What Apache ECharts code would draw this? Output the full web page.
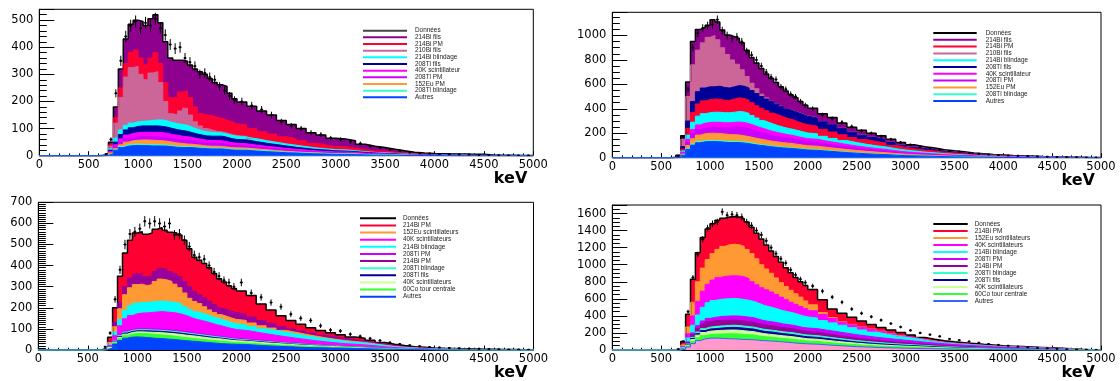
<!DOCTYPE html>
<html><head><meta charset="utf-8">
<script src="https://cdn.jsdelivr.net/npm/echarts@6/dist/echarts.min.js"></script>
<style>html,body{margin:0;padding:0;background:#fff}#c{width:1120px;height:381px}</style>
</head><body><div id="c"></div>
<script>
// Lower edges of the histogram bins (keV); the last bin ends at 5000 keV.
const binEdges = [600,650,700,750,800,850,900,950,1000,1050,1100,1150,1200,1250,1300,1350,1400,1450,1500,1550,1600,1650,1700,1750,1800,1850,1900,1950,
  2000,2100,2200,2300,2400,2500,2600,2700,2800,2900,3000,3100,3200,3300,3400,3500,3600,3700,3800,3900,4000,4100,4200,4300,4400,4500,4600,4700,4800,4900];
const xTicks = [0,500,1000,1500,2000,2500,3000,3500,4000,4500,5000];

// Each array = height of the top edge of that layer in the stack (counts per bin).
// ---------- Panel 1 (top left)
const p1_214Bi_fils = [2,8,50,180,320,430,485,500,495,480,505,520,490,420,360,352,352,348,335,320,310,300,285,270,262,255,230,210,
  198,182,165,150,130,115,100,85,76,64,62,55,42,35,30,24,18,13,10,8,7,6,6,5,5,3,2,2,1,1];
const p1_214Bi_PM = [1,6,40,140,250,340,380,390,360,335,360,380,340,270,215,215,235,240,215,180,155,150,148,142,138,132,125,118,
  113,100,88,80,70,63,55,46,40,34,33,28,22,18,16,13,10,7,6,5,4,3,3,2,2,1,1,1,0,0];
const p1_210Bi_fils = [1,5,35,120,215,290,325,330,300,280,305,310,270,200,155,150,165,175,150,125,110,100,95,90,88,84,78,74,
  71,63,56,50,44,39,34,29,26,23,22,19,15,12,11,9,7,5,4,3,3,2,2,1,1,1,0,0,0,0];
const p1_214Bi_blindage = [1,4,25,65,95,112,120,125,127,128,130,132,132,128,122,118,115,112,105,98,92,88,86,85,84,80,75,72,
  69,62,55,49,43,38,33,28,25,22,21,18,14,12,10,8,6,5,4,3,3,2,2,1,1,1,0,0,0,0];
const p1_208Tl_fils = [0,3,20,50,78,95,103,108,110,110,110,110,108,105,100,96,93,90,85,80,76,73,72,72,72,68,63,60,
  58,52,46,41,36,31,27,23,21,18,17,15,12,10,8,7,5,4,3,3,2,2,1,1,1,0,0,0,0,0];
const p1_40K_scint = [0,2,15,40,62,76,82,85,86,86,86,86,85,82,78,75,72,70,67,63,60,57,56,56,55,52,48,46,
  44,39,35,31,27,24,21,18,16,14,14,12,9,8,7,5,4,3,2,2,2,1,1,1,0,0,0,0,0,0];
const p1_208Tl_PM = [0,2,12,32,50,62,67,70,70,70,70,69,68,66,63,60,58,57,55,52,49,47,46,46,45,42,38,37,
  36,32,28,25,21,18,16,14,12,11,11,9,7,6,5,4,3,2,2,1,1,0,0,0,0,0,0,0,0,0];
const p1_152Eu_PM = [0,1,10,26,40,50,55,57,58,58,57,56,55,53,50,47,45,43,42,40,38,36,35,35,34,32,30,29,
  28,25,22,19,16,14,12,11,9,8,8,7,5,4,4,3,2,2,1,1,1,0,0,0,0,0,0,0,0,0];
const p1_208Tl_blindage = [0,1,8,22,34,40,42,43,42,42,41,40,40,39,37,35,34,33,33,31,30,29,28,28,28,26,24,23,
  23,20,18,16,13,12,10,9,8,7,7,6,4,3,3,3,2,1,1,1,1,0,0,0,0,0,0,0,0,0];
const p1_autres = [0,1,7,20,30,35,37,38,37,37,36,36,36,35,33,31,30,30,30,28,27,26,25,25,25,23,21,20,
  20,17,15,13,11,10,8,7,6,5,5,4,3,2,2,2,1,1,1,1,0,0,0,0,0,0,0,0,0,0];
const p1_donnees = [0,6,60,230,350,440,480,495,470,490,480,505,470,445,410,395,400,360,345,330,300,305,290,280,255,240,220,205,
  200,185,170,150,125,110,100,85,78,65,60,52,45,35,30,22,18,12,9,8,6,5,4,4,3,3,2,1,1,1];

// ---------- Panel 2 (top right)
const p2_214Bi_fils = [3,20,180,620,950,1050,1065,1085,1130,1110,1045,1005,990,975,940,880,820,775,730,685,650,615,580,545,515,490,460,430,
  405,360,330,285,250,225,200,180,150,125,105,90,80,66,56,48,38,32,26,22,18,15,13,10,8,6,4,3,2,1];
const p2_210Bi_fils = [2,15,150,500,760,880,940,985,1000,965,900,845,800,765,720,665,610,565,520,490,462,442,422,402,387,372,357,342,
  327,296,272,242,212,187,167,151,126,106,89,77,68,56,48,41,33,28,23,19,16,13,11,9,7,5,4,3,2,1];
const p2_208Tl_fils = [1,10,90,300,460,540,570,580,580,585,575,570,580,590,585,570,550,525,500,480,460,440,420,400,385,370,355,340,
  325,294,270,240,210,185,165,149,124,104,87,75,66,55,47,40,32,27,22,18,15,12,10,8,6,4,3,2,1,1];
const p2_214Bi_PM = [1,8,70,240,370,440,465,475,480,478,470,470,480,490,485,470,450,425,405,385,365,350,335,320,310,295,280,270,
  258,232,210,188,165,148,132,120,100,85,72,62,54,45,38,32,26,22,18,15,12,10,8,6,5,4,2,2,1,1];
const p2_214Bi_blindage = [1,6,55,185,290,340,360,368,372,372,368,368,372,378,375,362,345,325,305,290,275,262,250,240,232,222,212,202,
  195,175,158,140,124,110,98,88,74,63,54,46,40,33,28,24,19,16,13,11,9,7,6,5,4,3,2,1,1,0];
const p2_40K_scint = [0,5,45,150,230,268,282,288,290,290,286,286,290,292,288,278,265,250,238,225,214,205,196,188,182,172,163,156,
  150,135,122,108,96,85,76,68,57,48,42,36,31,25,21,18,15,12,10,8,7,5,4,4,3,2,1,1,0,0];
const p2_208Tl_PM = [0,4,38,125,195,230,242,246,248,248,245,245,250,252,248,238,225,212,200,190,180,172,165,160,155,146,138,131,
  125,112,100,89,79,70,62,55,46,39,34,29,25,20,17,14,12,10,8,6,5,4,3,3,2,1,1,0,0,0];
const p2_152Eu_PM = [0,3,30,100,155,185,196,200,200,198,194,190,188,186,180,172,163,155,148,140,133,128,123,119,115,109,103,98,
  94,84,75,67,59,52,46,41,34,29,25,21,18,15,12,10,8,7,6,5,4,3,2,2,1,1,0,0,0,0];
const p2_208Tl_blindage = [0,2,22,75,112,132,140,142,142,140,137,134,134,134,130,124,117,110,105,99,94,90,86,83,80,76,72,68,
  65,58,52,46,40,35,31,27,23,19,17,14,12,10,8,7,5,4,4,3,2,2,1,1,0,0,0,0,0,0];
const p2_autres = [0,2,20,68,103,122,130,132,132,130,127,124,124,124,120,115,108,102,98,92,88,84,80,77,75,71,67,63,
  60,54,48,42,37,32,28,25,21,17,15,13,11,9,7,6,5,4,3,2,2,1,1,0,0,0,0,0,0,0];
const p2_donnees = [0,15,170,560,900,1020,1060,1080,1090,1130,1040,1000,975,990,950,870,840,800,750,700,660,640,580,560,520,500,460,430,
  400,350,320,290,255,220,200,175,150,125,105,90,78,65,55,48,38,32,26,22,18,15,13,10,8,6,4,3,2,1];

// ---------- Panel 3 (bottom left)
const p3_214Bi_PM = [2,10,60,200,350,460,520,555,560,548,555,572,580,568,558,555,545,520,480,440,425,410,390,362,338,322,305,292,
  280,258,218,190,162,140,122,106,92,82,72,62,56,46,36,27,21,16,13,10,8,7,6,5,4,3,2,2,1,1];
const p3_214Bi_PM_b = [1,6,40,130,225,300,340,360,362,348,352,372,388,382,372,362,348,325,300,278,262,248,232,215,200,192,184,177,
  170,156,140,127,112,100,90,80,70,62,55,48,43,35,28,21,16,12,10,8,6,5,4,4,3,2,1,1,0,0];
const p3_152Eu_scint = [1,5,35,110,195,262,295,310,312,305,310,325,336,332,325,312,295,270,245,230,220,205,190,178,168,160,152,145,
  140,128,115,104,93,84,75,66,58,51,45,40,36,29,23,17,13,10,8,6,5,4,3,3,2,1,1,0,0,0];
const p3_214Bi_blindage = [1,4,28,85,145,188,210,222,226,226,228,230,232,230,228,224,218,205,192,182,175,168,160,152,146,138,130,124,
  120,110,100,92,84,76,68,60,53,47,41,37,33,27,21,16,12,9,7,6,5,4,3,2,2,1,1,0,0,0];
const p3_40K_scint = [0,3,22,68,115,148,163,172,175,176,178,180,182,180,178,175,170,162,153,145,140,134,127,120,115,108,102,97,
  93,85,77,70,63,56,50,44,39,34,30,27,24,20,15,12,9,7,5,4,4,3,2,2,1,1,0,0,0,0];
const p3_208Tl_PM = [0,2,15,45,72,90,98,101,102,102,101,100,99,97,95,93,90,87,84,80,77,74,71,68,65,62,58,55,
  52,48,44,40,36,33,30,27,24,21,19,17,15,12,10,8,6,5,4,3,3,2,2,1,1,0,0,0,0,0];
const p3_208Tl_blindage = [0,2,14,42,68,85,93,96,96,96,95,94,93,91,89,87,84,81,78,75,72,69,66,63,60,57,54,51,
  48,44,40,37,33,30,27,24,21,19,17,15,13,11,9,7,5,4,3,3,2,2,1,1,0,0,0,0,0,0];
const p3_208Tl_fils = [0,2,13,40,64,80,88,91,91,91,90,89,88,86,84,82,79,76,73,70,67,64,61,58,56,53,50,47,
  45,41,37,34,30,27,24,22,19,17,15,13,11,9,8,6,4,3,3,2,2,1,1,0,0,0,0,0,0,0];
const p3_40K_scint_b = [0,2,12,38,60,75,83,86,86,85,84,83,82,80,78,76,73,70,68,65,62,59,56,54,52,49,46,44,
  42,38,34,31,28,25,22,20,18,16,14,12,10,8,7,5,4,3,2,2,1,1,0,0,0,0,0,0,0,0];
const p3_60Co = [0,2,11,34,54,68,75,78,78,77,75,73,71,69,67,64,61,58,56,53,50,48,46,44,42,40,37,35,
  33,30,27,24,22,20,18,16,14,12,11,9,8,6,5,4,3,2,2,1,1,0,0,0,0,0,0,0,0,0];
const p3_autres = [0,1,9,28,45,56,61,62,61,59,57,55,54,52,50,48,46,44,42,40,38,36,34,32,30,29,28,27,
  26,23,20,18,16,14,12,11,10,9,8,7,6,5,4,3,2,2,1,1,0,0,0,0,0,0,0,0,0,0];
const p3_donnees = [0,15,80,240,380,500,550,560,575,610,600,610,600,585,600,545,550,520,490,450,440,430,400,370,350,330,320,300,
  320,270,250,225,205,170,150,140,115,95,90,75,65,55,45,35,28,22,18,14,12,10,8,7,6,4,3,2,2,1];

// ---------- Panel 4 (bottom right)
const p4_214Bi_PM = [2,10,100,420,830,1140,1320,1420,1480,1520,1545,1560,1565,1560,1540,1500,1440,1370,1300,1230,1160,1095,1030,965,905,850,800,755,
  710,590,480,430,385,340,300,265,235,205,175,148,125,108,96,86,76,66,58,50,45,40,35,30,25,20,14,8,4,2];
const p4_152Eu_scint = [1,6,60,270,560,800,960,1060,1130,1180,1215,1235,1240,1235,1215,1180,1130,1070,1000,950,900,845,790,745,700,660,620,575,
  530,440,380,330,300,270,245,220,195,170,145,123,105,90,80,72,64,56,49,42,38,34,30,25,21,17,12,7,3,2];
const p4_40K_scint = [1,4,42,190,400,570,690,770,820,848,862,868,870,868,858,835,800,765,730,705,680,650,620,590,560,535,510,485,
  460,415,370,325,295,265,240,215,190,165,142,120,102,88,78,70,62,54,47,41,37,33,29,24,20,16,11,6,3,1];
const p4_214Bi_blindage = [1,3,30,140,290,410,500,555,580,592,598,602,605,600,592,582,570,548,525,510,495,478,460,448,435,418,400,388,
  375,345,318,290,262,235,210,188,168,150,135,115,98,84,74,66,58,50,44,38,34,30,26,22,18,14,10,5,2,1];
const p4_208Tl_PM = [0,2,22,95,200,285,340,370,382,390,395,398,400,398,392,385,378,360,345,335,328,318,305,298,290,278,265,258,
  250,232,215,197,180,165,150,137,125,114,104,92,82,72,64,57,50,44,38,33,29,25,22,18,15,12,8,4,2,1];
const p4_214Bi_PM_b = [0,2,20,85,180,255,305,332,342,346,348,350,350,346,340,333,325,310,297,288,282,272,262,255,248,236,224,216,
  208,190,173,156,140,126,114,103,93,85,77,68,60,52,46,40,35,30,26,22,19,16,14,11,9,7,5,3,1,0];
const p4_208Tl_blindage = [0,2,17,70,148,210,250,268,275,280,284,288,290,286,280,274,268,255,243,236,230,222,213,207,202,192,182,175,
  168,153,138,124,111,100,90,81,73,66,60,53,46,40,35,31,27,23,20,17,14,12,10,8,6,5,3,2,1,0];
const p4_208Tl_fils = [0,2,15,64,135,192,228,245,250,255,260,264,265,262,256,250,245,232,220,214,208,200,192,186,180,171,162,155,
  148,134,120,107,95,85,76,68,61,55,50,44,38,33,29,25,22,19,16,13,11,9,8,6,5,4,2,1,0,0];
const p4_40K_scint_b = [0,2,14,58,122,174,205,220,225,229,232,234,235,232,226,220,215,203,192,186,180,173,166,161,155,147,139,132,
  126,113,101,90,80,71,63,56,50,45,40,35,30,26,23,20,17,14,12,10,8,7,6,4,3,2,1,0,0,0];
const p4_60Co = [0,1,11,47,100,143,168,180,185,187,189,190,190,187,182,178,175,165,157,152,147,141,135,130,125,118,111,105,
  100,89,79,70,62,55,49,44,39,34,30,26,23,20,17,14,12,10,8,7,6,5,4,3,2,1,0,0,0,0];
const p4_autres = [0,1,8,35,75,110,130,138,140,138,135,132,130,127,124,122,120,114,110,107,104,100,95,90,85,80,76,72,
  68,60,53,46,40,35,31,27,24,21,18,16,14,12,10,8,7,6,5,4,3,3,2,2,1,1,0,0,0,0];
const p4_donnees = [0,10,100,450,850,1120,1300,1430,1480,1500,1620,1580,1590,1580,1560,1500,1460,1400,1350,1280,1200,1130,1070,1020,940,880,830,790,
  750,690,620,560,480,430,390,350,310,270,230,200,180,160,130,115,100,85,70,60,50,40,32,25,20,14,8,5,3,1];

// ---------- styling
const C = {purple:'#8e008e', red:'#ff0033', pink:'#cc6699', cyan:'#00ffff', navy:'#000099', magenta:'#ff00ff',
  violet:'#cc00ff', orange:'#ff9933', teal:'#33ffcc', blue:'#0044ff', purple2:'#990099', lgreen:'#ccff99',
  green:'#33ff33', lpink:'#ff99cc', lblue:'#3366ff'};

// layers listed from the top of the stack to the bottom
const panels = [
 {grid:{left:39.3, top:9.3, width:494, height:146.4}, yMax:540, yInt:100, yMinor:5,
  leg:{left:363, first:30.7, step:6.66, w:44, pad:3}, dataColor:'#444', data:p1_donnees,
  layers:[
   {k:'214Bi fils', v:p1_214Bi_fils, f:C.purple, l:'#000'},
   {k:'214Bi PM', v:p1_214Bi_PM, f:C.red},
   {k:'210Bi fils', v:p1_210Bi_fils, f:C.pink},
   {k:'214Bi blindage', v:p1_214Bi_blindage, f:C.cyan},
   {k:'208Tl fils', v:p1_208Tl_fils, f:C.navy},
   {k:'40K scintillateur', v:p1_40K_scint, f:C.magenta},
   {k:'208Tl PM', v:p1_208Tl_PM, f:C.violet},
   {k:'152Eu PM', v:p1_152Eu_PM, f:C.orange},
   {k:'208Tl blindage', v:p1_208Tl_blindage, f:C.teal},
   {k:'Autres', v:p1_autres, f:C.blue}],
  order:['Données','214Bi fils','214Bi PM','210Bi fils','214Bi blindage','208Tl fils','40K scintillateur','208Tl PM','152Eu PM','208Tl blindage','Autres']},
 {grid:{left:612.3, top:12.3, width:488.7, height:145.4}, yMax:1190, yInt:200, yMinor:4,
  leg:{left:933.3, first:33, step:6.8, w:43.4, pad:4}, dataColor:'#000', data:p2_donnees,
  layers:[
   {k:'214Bi fils', v:p2_214Bi_fils, f:C.purple, l:'#000'},
   {k:'210Bi fils', v:p2_210Bi_fils, f:C.pink},
   {k:'208Tl fils', v:p2_208Tl_fils, f:C.navy},
   {k:'214Bi PM', v:p2_214Bi_PM, f:C.red},
   {k:'214Bi blindage', v:p2_214Bi_blindage, f:C.cyan},
   {k:'40K scintillateur', v:p2_40K_scint, f:C.magenta},
   {k:'208Tl PM', v:p2_208Tl_PM, f:C.violet},
   {k:'152Eu PM', v:p2_152Eu_PM, f:C.orange},
   {k:'208Tl blindage', v:p2_208Tl_blindage, f:C.teal},
   {k:'Autres', v:p2_autres, f:C.blue}],
  order:['Données','214Bi fils','214Bi PM','210Bi fils','214Bi blindage','208Tl fils','40K scintillateur','208Tl PM','152Eu PM','208Tl blindage','Autres']},
 {grid:{left:38.3, top:202.3, width:495.2, height:147.7}, yMax:700, yInt:100, yMinor:10,
  leg:{left:360, first:218.3, step:7.13, w:36, pad:2}, dataColor:'#000', data:p3_donnees,
  layers:[
   {k:'214Bi PM', v:p3_214Bi_PM, f:C.red, l:'#000'},
   {k:'214Bi PM#2', t:'214Bi PM', v:p3_214Bi_PM_b, f:C.purple2},
   {k:'152Eu scintillateurs', v:p3_152Eu_scint, f:C.orange},
   {k:'214Bi blindage', v:p3_214Bi_blindage, f:C.cyan},
   {k:'40K scintillateurs', v:p3_40K_scint, f:C.magenta},
   {k:'208Tl PM', v:p3_208Tl_PM, f:C.violet},
   {k:'208Tl blindage', v:p3_208Tl_blindage, f:C.teal},
   {k:'208Tl fils', v:p3_208Tl_fils, f:C.navy},
   {k:'40K scintillateurs#2', t:'40K scintillateurs', v:p3_40K_scint_b, f:C.lgreen},
   {k:'60Co tour centrale', v:p3_60Co, f:C.green},
   {k:'Autres', v:p3_autres, f:C.blue}],
  order:['Données','214Bi PM','152Eu scintillateurs','40K scintillateurs','214Bi blindage','208Tl PM','214Bi PM#2','208Tl blindage','208Tl fils','40K scintillateurs#2','60Co tour centrale','Autres']},
 {grid:{left:612.3, top:205, width:488.7, height:145}, yMax:1700, yInt:200, yMinor:4,
  leg:{left:933.3, first:224, step:7.0, w:34.4, pad:2}, dataColor:'#000', data:p4_donnees,
  layers:[
   {k:'214Bi PM', v:p4_214Bi_PM, f:C.red, l:'#000'},
   {k:'152Eu scintillateurs', v:p4_152Eu_scint, f:C.orange},
   {k:'40K scintillateurs', v:p4_40K_scint, f:C.magenta},
   {k:'214Bi blindage', v:p4_214Bi_blindage, f:C.cyan},
   {k:'208Tl PM', v:p4_208Tl_PM, f:C.violet},
   {k:'214Bi PM#2', t:'214Bi PM', v:p4_214Bi_PM_b, f:C.purple2},
   {k:'208Tl blindage', v:p4_208Tl_blindage, f:C.teal},
   {k:'208Tl fils', v:p4_208Tl_fils, f:C.navy},
   {k:'40K scintillateurs#2', t:'40K scintillateurs', v:p4_40K_scint_b, f:C.lgreen},
   {k:'60Co tour centrale', v:p4_60Co, f:C.green},
   {k:'Autres', v:p4_autres, f:C.lpink, l:C.lblue, lg:C.lblue}],
  order:['Données','214Bi PM','152Eu scintillateurs','40K scintillateurs','214Bi blindage','208Tl PM','214Bi PM#2','208Tl blindage','208Tl fils','40K scintillateurs#2','60Co tour centrale','Autres']}
];

const grids=[], xAxes=[], yAxes=[], series=[], legends=[];
const labelOf = {};
panels.forEach((p,i)=>{
  const pre = 'P'+(i+1)+'|';
  grids.push({left:p.grid.left, top:p.grid.top, width:p.grid.width, height:p.grid.height,
    show:true, borderColor:'#000', borderWidth:1, backgroundColor:'#fff'});
  xAxes.push({gridIndex:i, type:'value', min:0, max:5000, interval:500,
    axisLine:{show:true, onZero:false, lineStyle:{color:'#000', width:1}},
    axisTick:{show:true, inside:true, length:4.5, lineStyle:{color:'#000'}},
    minorTick:{show:true, splitNumber:5, length:2.3, lineStyle:{color:'#000'}},
    splitLine:{show:false}, minorSplitLine:{show:false},
    axisLabel:{color:'#000', fontSize:11.5, fontFamily:'DejaVu Sans', margin:3,
      formatter:v=>xTicks.includes(v)?String(v):''},
    name:'keV', nameLocation:'end', nameGap:-6,
    nameTextStyle:{fontFamily:'DejaVu Sans', fontWeight:'bold', fontSize:16, color:'#000',
      align:'right', verticalAlign:'top', padding:[15,0,0,0]}});
  yAxes.push({gridIndex:i, type:'value', min:0, max:p.yMax, interval:p.yInt,
    axisLine:{show:true, onZero:false, lineStyle:{color:'#000', width:1}},
    axisTick:{show:true, inside:true, length:15, lineStyle:{color:'#000'}},
    minorTick:{show:true, splitNumber:p.yMinor, length:7.5, lineStyle:{color:'#000'}},
    splitLine:{show:false}, minorSplitLine:{show:false},
    axisLabel:{color:'#000', fontSize:11.5, fontFamily:'DejaVu Sans', margin:6,
      showMaxLabel: p.yMax % p.yInt === 0,
      formatter:v=>(v % p.yInt === 0)?String(v):''}});
  const legColor = {};
  p.layers.forEach((L,li)=>{
    const name = pre + L.k;
    labelOf[name] = L.t || L.k;
    legColor[L.k] = L.lg || L.f;
    const v = L.v;
    const pts = [[0,0]];
    binEdges.forEach((x,j)=>pts.push([x, v[j] || 0]));
    pts.push([5000, v[binEdges.length-1] || 0]);
    series.push({name, type:'line', step:'end', xAxisIndex:i, yAxisIndex:i, symbol:'none', silent:true,
      animation:false, clip:true, itemStyle:{color:L.l || L.f},
      lineStyle:{color:L.l || L.f, width: li === 0 ? 1.5 : 1}, areaStyle:{color:L.f, opacity:1}, data:pts});
  });
  // data points with statistical error bars
  const dname = pre + 'Données';
  labelOf[dname] = 'Données';
  legColor['Données'] = p.dataColor;
  const dpts = [];
  binEdges.forEach((x,j)=>{
    const hi = j+1 < binEdges.length ? binEdges[j+1] : 5000;
    const n = p.data[j];
    if (n > 0) dpts.push([(x+hi)/2, n, Math.sqrt(n)]);
  });
  series.push({name:dname, type:'custom', xAxisIndex:i, yAxisIndex:i, silent:true, animation:false, z:5,
    itemStyle:{color:p.dataColor}, encode:{x:0, y:1}, clip:true, data:dpts,
    renderItem:(params, api)=>{
      const x = api.value(0), n = api.value(1), e = api.value(2);
      const c = api.coord([x, n]);
      const t = api.coord([x, n + e]);
      const b = api.coord([x, Math.max(0, n - e)]);
      const l = api.coord([x - 15, n]);
      const r = api.coord([x + 15, n]);
      return {type:'group', children:[
        {type:'line', shape:{x1:c[0], y1:t[1], x2:c[0], y2:b[1]}, style:{stroke:'#000', lineWidth:1}},
        {type:'line', shape:{x1:l[0], y1:c[1], x2:r[0], y2:c[1]}, style:{stroke:'#000', lineWidth:1}},
        {type:'rect', shape:{x:c[0]-1, y:c[1]-1, width:2, height:2}, style:{fill:'#000'}}
      ]};
    }});
  legends.push({orient:'vertical', left:p.leg.left, top:p.leg.first - p.leg.step/2, padding:0, itemGap:0,
    itemWidth:p.leg.w, itemHeight:2, selectedMode:false, icon:'rect',
    textStyle:{fontSize:6.4, fontFamily:'Liberation Sans', color:'#222', lineHeight:p.leg.step,
      padding:[0,0,0,p.leg.pad]},
    formatter:n=>labelOf[n] || n,
    data:p.order.map(k=>({name:pre + k, icon:'rect', itemStyle:{color:legColor[k]}}))});
});

const chart = echarts.init(document.getElementById('c'), null, {renderer:'canvas'});
chart.setOption({backgroundColor:'#fff', animation:false, grid:grids, xAxis:xAxes, yAxis:yAxes,
  legend:legends, series});
</script></body></html>
